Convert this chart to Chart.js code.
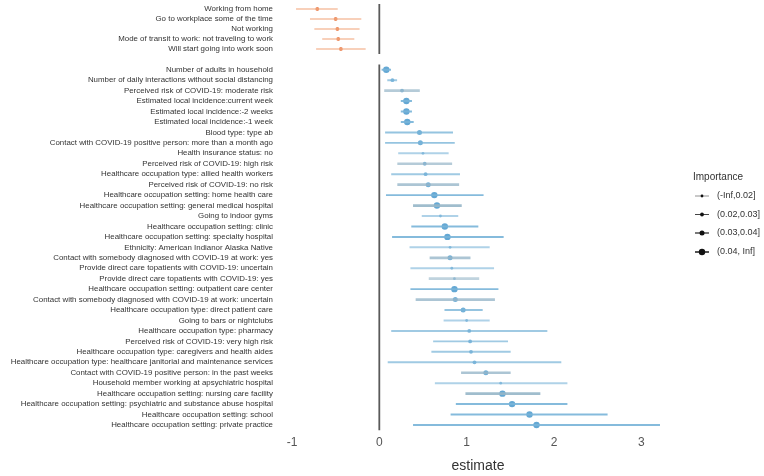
<!DOCTYPE html>
<html>
<head>
<meta charset="utf-8">
<script src="https://cdn.jsdelivr.net/npm/chart.js@4"></script>
<style>
  html, body { margin: 0; padding: 0; background: #fff; }
  #wrap { position: relative; width: 764px; height: 476px; }
  #topBox { position: absolute; left: 0; top: 0; }
  #mainBox { position: absolute; left: 0; top: 58px; }
</style>
</head>
<body>
<div id="wrap">
  <div id="topBox"><canvas id="topChart" width="764" height="58"></canvas></div>
  <div id="mainBox"><canvas id="mainChart" width="764" height="418"></canvas></div>
</div>
<script>
// top panel: work status
const topLabels = [
  "Working from home",
  "Go to workplace some of the time",
  "Not working",
  "Mode of transit to work: not traveling to work",
  "Will start going into work soon",
]
const topEst = [-0.71, -0.50, -0.48, -0.47, -0.44]
const topLow = [-0.95, -0.79, -0.74, -0.65, -0.72]
const topHigh = [-0.48, -0.21, -0.23, -0.29, -0.16]
const topImportance = [2, 2, 2, 2, 2]

// main panel
const labels = [
  "Number of adults in household",
  "Number of daily interactions without social distancing",
  "Perceived risk of COVID-19: moderate risk",
  "Estimated local incidence:current week",
  "Estimated local incidence:-2 weeks",
  "Estimated local incidence:-1 week",
  "Blood type: type ab",
  "Contact with COVID-19 positive person: more than a month ago",
  "Health insurance status: no",
  "Perceived risk of COVID-19: high risk",
  "Healthcare occupation type: allied health workers",
  "Perceived risk of COVID-19: no risk",
  "Healthcare occupation setting: home health care",
  "Healthcare occupation setting: general medical hospital",
  "Going to indoor gyms",
  "Healthcare occupation setting: clinic",
  "Healthcare occupation setting: specialty hospital",
  "Ethnicity: American Indianor Alaska Native",
  "Contact with somebody diagnosed with COVID-19 at work: yes",
  "Provide direct care topatients with COVID-19: uncertain",
  "Provide direct care topatients with COVID-19: yes",
  "Healthcare occupation setting: outpatient care center",
  "Contact with somebody diagnosed with COVID-19 at work: uncertain",
  "Healthcare occupation type: direct patient care",
  "Going to bars or nightclubs",
  "Healthcare occupation type: pharmacy",
  "Perceived risk of COVID-19: very high risk",
  "Healthcare occupation type: caregivers and health aides",
  "Healthcare occupation type: healthcare janitorial and maintenance services",
  "Contact with COVID-19 positive person: in the past weeks",
  "Household member working at apsychiatric hospital",
  "Healthcare occupation setting: nursing care facility",
  "Healthcare occupation setting: psychiatric and substance abuse hospital",
  "Healthcare occupation setting: school",
  "Healthcare occupation setting: private practice",
]
const est = [0.08, 0.15, 0.26, 0.31, 0.31, 0.32, 0.46, 0.47, 0.50, 0.52, 0.53, 0.56, 0.63, 0.66, 0.70, 0.75, 0.78, 0.81, 0.81, 0.83, 0.86, 0.86, 0.87, 0.96, 1.00, 1.03, 1.04, 1.05, 1.09, 1.22, 1.39, 1.41, 1.52, 1.72, 1.80]
const low = [0.03, 0.095, 0.06, 0.25, 0.25, 0.25, 0.07, 0.07, 0.22, 0.21, 0.14, 0.21, 0.08, 0.39, 0.49, 0.37, 0.15, 0.35, 0.58, 0.36, 0.57, 0.36, 0.42, 0.75, 0.74, 0.14, 0.62, 0.60, 0.10, 0.94, 0.64, 0.99, 0.88, 0.82, 0.39]
const high = [0.13, 0.20, 0.46, 0.37, 0.37, 0.39, 0.84, 0.86, 0.79, 0.83, 0.92, 0.91, 1.19, 0.94, 0.90, 1.13, 1.42, 1.26, 1.04, 1.31, 1.14, 1.36, 1.32, 1.18, 1.26, 1.92, 1.47, 1.50, 2.08, 1.50, 2.15, 1.84, 2.15, 2.61, 3.21]
// importance bins: 1=(-Inf,0.02] 2=(0.02,0.03] 3=(0.03,0.04] 4=(0.04,Inf]
const importance = [4, 2, 2, 4, 4, 4, 3, 3, 1, 2, 2, 3, 4, 4, 1, 4, 4, 1, 3, 1, 1, 4, 3, 3, 1, 2, 2, 2, 2, 3, 1, 4, 4, 4, 4]
// interval group: b / g
const ciGroup = ["b", "b", "g", "b", "b", "b", "b", "b", "b", "g", "b", "g", "b", "g", "b", "b", "b", "b", "g", "b", "g", "b", "g", "b", "b", "b", "b", "b", "b", "g", "b", "g", "b", "b", "b"]
const importanceLabels = ["(-Inf,0.02]", "(0.02,0.03]", "(0.03,0.04]", "(0.04, Inf]"]

const X_MIN = -1.16
const X_MAX = 3.42
const LEFT = 278
const RIGHT_PAD = 86
const radius = { 1: 1.4, 2: 1.9, 3: 2.5, 4: 3.2 }
const alpha = { 1: 0.45, 2: 0.65, 3: 0.8, 4: 1 }
const FONT = "'Liberation Sans', Arial, sans-serif"
const labelFont = { family: FONT, size: 7.9 }

const zeroLine = {
  id: "zeroLine",
  beforeDatasetsDraw(chart) {
    const { ctx, chartArea, scales } = chart
    const x = scales.x.getPixelForValue(0)
    ctx.save()
    ctx.strokeStyle = "#5a5a5a"
    ctx.lineWidth = 1.8
    ctx.beginPath()
    ctx.moveTo(x, chartArea.top)
    ctx.lineTo(x, chartArea.bottom)
    ctx.stroke()
    ctx.restore()
  },
}

const importanceLegend = {
  id: "importanceLegend",
  afterDraw(chart) {
    const ctx = chart.ctx
    const off = 58
    ctx.save()
    ctx.fillStyle = "#333"
    ctx.font = "10px " + FONT
    ctx.textBaseline = "middle"
    ctx.fillText("Importance", 693, 177 - off)
    const ys = [196, 214.5, 233, 252]
    importanceLabels.forEach((t, i) => {
      const y = ys[i] - off
      ctx.strokeStyle = "#222"
      ctx.lineWidth = 0.5 + i * 0.35
      ctx.beginPath()
      ctx.moveTo(695, y)
      ctx.lineTo(709, y)
      ctx.stroke()
      ctx.fillStyle = "#111"
      ctx.beginPath()
      ctx.arc(702, y, radius[i + 1], 0, Math.PI * 2)
      ctx.fill()
      ctx.fillStyle = "#333"
      ctx.font = "9px " + FONT
      ctx.fillText(t, 717, y)
    })
    ctx.restore()
  },
}

function ciColor(group, imp) {
  const a = 0.35 + alpha[imp] * 0.55
  return group === "g" ? `rgba(150,182,200,${a})` : `rgba(120,180,216,${a})`
}

function yAxis() {
  return {
    type: "category",
    offset: true,
    grid: { display: false, drawTicks: false },
    border: { display: false },
    ticks: { autoSkip: false, font: labelFont, color: "#333", padding: 5 },
    afterFit: (s) => {
      s.width = LEFT
      s.paddingTop = 0
      s.paddingBottom = 0
    },
  }
}

// top panel
new Chart(document.getElementById("topChart"), {
  type: "bar",
  data: {
    labels: topLabels,
    datasets: [
      {
        indexAxis: "y",
        data: topLow.map((l, i) => [l, topHigh[i]]),
        backgroundColor: "rgba(242,170,130,0.55)",
        barThickness: 1.4,
        grouped: false,
      },
      {
        type: "line",
        indexAxis: "y",
        data: topEst,
        showLine: false,
        pointRadius: topImportance.map((v) => radius[v]),
        pointBackgroundColor: "#ec8a5c",
        pointBorderWidth: 0,
      },
    ],
  },
  options: {
    indexAxis: "y",
    responsive: false,
    animation: false,
    layout: { padding: { top: 1.5, bottom: 2.5, right: RIGHT_PAD, left: 0 } },
    plugins: { legend: { display: false }, tooltip: { enabled: false } },
    scales: {
      x: { type: "linear", min: X_MIN, max: X_MAX, display: false },
      y: yAxis(),
    },
  },
  plugins: [zeroLine],
})

// main panel
const ciBlue = low.map((l, i) => (ciGroup[i] === "b" ? [l, high[i]] : null))
const ciGray = low.map((l, i) => (ciGroup[i] === "g" ? [l, high[i]] : null))

new Chart(document.getElementById("mainChart"), {
  type: "bar",
  data: {
    labels: labels,
    datasets: [
      {
        indexAxis: "y",
        data: ciBlue,
        backgroundColor: (c) => ciColor("b", importance[c.dataIndex]),
        barThickness: 1.3,
        grouped: false,
      },
      {
        indexAxis: "y",
        data: ciGray,
        backgroundColor: (c) => ciColor("g", importance[c.dataIndex]),
        barThickness: 2,
        grouped: false,
      },
      {
        type: "line",
        indexAxis: "y",
        data: est,
        showLine: false,
        pointRadius: importance.map((v) => radius[v]),
        pointBackgroundColor: importance.map((v) => `rgba(100,168,212,${0.5 + alpha[v] * 0.5})`),
        pointBorderWidth: 0,
      },
    ],
  },
  options: {
    indexAxis: "y",
    responsive: false,
    animation: false,
    layout: { padding: { top: 6.5, bottom: 0, right: RIGHT_PAD, left: 0 } },
    plugins: { legend: { display: false }, tooltip: { enabled: false } },
    scales: {
      x: {
        type: "linear",
        min: X_MIN,
        max: X_MAX,
        grid: { display: false, drawTicks: false },
        border: { display: false },
        ticks: {
          stepSize: 1,
          includeBounds: false,
          padding: 5,
          color: "#555",
          font: { family: FONT, size: 12 },
        },
        title: {
          display: true,
          text: "estimate",
          color: "#333",
          padding: { top: 0, bottom: 1 },
          font: { family: FONT, size: 14 },
        },
        afterFit: (s) => {
          s.height = 45.8
          s.paddingLeft = 0
          s.paddingRight = 0
        },
      },
      y: yAxis(),
    },
  },
  plugins: [zeroLine, importanceLegend],
})
</script>
</body>
</html>
